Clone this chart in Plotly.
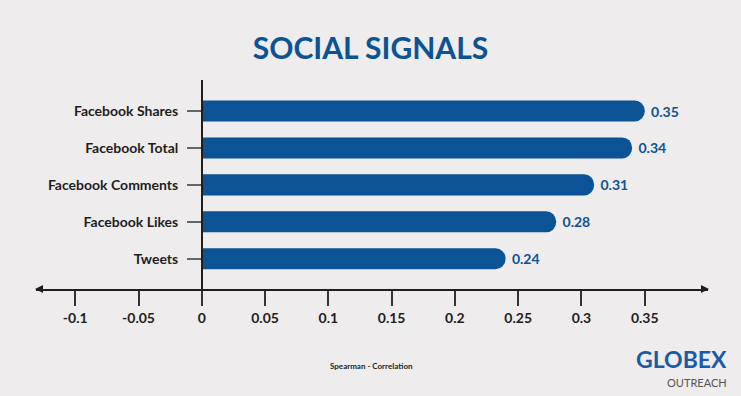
import plotly.graph_objects as go

categories = ["Facebook Shares", "Facebook Total", "Facebook Comments", "Facebook Likes", "Tweets"]
values = [0.35, 0.34, 0.31, 0.28, 0.24]
value_labels = ["0.35", "0.34", "0.31", "0.28", "0.24"]
tick_vals = [-0.1, -0.05, 0, 0.05, 0.1, 0.15, 0.2, 0.25, 0.3, 0.35]
tick_text = ["-0.1", "-0.05", "0", "0.05", "0.1", "0.15", "0.2", "0.25", "0.3", "0.35"]

BLUE = "#0b5394"
BG = "#eeecec"
DARK = "#1e1e1e"
FONT = "Lato, 'Open Sans', sans-serif"

xmin, xmax = -0.131, 0.40
ypos = (0 - xmin) / (xmax - xmin)

fig = go.Figure(go.Bar(
    x=values, y=categories, orientation="h",
    marker=dict(color=BLUE, cornerradius=10, line=dict(width=0)),
    text=value_labels, texttemplate="\u00a0%{text}", textposition="outside",
    textfont=dict(family=FONT, size=14, color=BLUE, weight="bold"),
    cliponaxis=False, width=0.57,
))

fig.update_layout(
    width=741, height=396,
    paper_bgcolor=BG, plot_bgcolor=BG,
    margin=dict(l=36, r=33, t=80, b=107),
    showlegend=False,
    title=dict(text="<b>SOCIAL SIGNALS</b>", x=0.5, xanchor="center", y=0.878, yanchor="middle",
               font=dict(family=FONT, size=30, color=BLUE)),
    xaxis=dict(range=[xmin, xmax], tickvals=tick_vals, ticktext=tick_text,
               showline=True, linecolor=DARK, linewidth=1.5,
               ticks="outside", ticklen=15, tickcolor="#333", tickwidth=1.5,
               showgrid=False, zeroline=False,
               tickfont=dict(family=FONT, size=14, color=DARK, weight="bold")),
    yaxis=dict(categoryorder="array", categoryarray=categories[::-1],
               range=[-0.82, 4.84], anchor="free", position=ypos,
               showline=True, linecolor=DARK, linewidth=1.5,
               ticks="outside", ticklen=14, tickcolor="#666", tickwidth=1.5,
               ticklabelstandoff=6,
               showgrid=False, zeroline=False,
               tickfont=dict(family=FONT, size=14, color=DARK, weight="bold")),
)

# arrowheads on the horizontal axis
fig.add_shape(type="path", xref="paper", yref="paper", xsizemode="pixel", ysizemode="pixel",
              xanchor=1, yanchor=0, path="M 1,0 L -7,4 L -7,-4 Z",
              fillcolor=DARK, line=dict(width=0))
fig.add_shape(type="path", xref="paper", yref="paper", xsizemode="pixel", ysizemode="pixel",
              xanchor=0, yanchor=0, path="M -1,0 L 7,4 L 7,-4 Z",
              fillcolor=DARK, line=dict(width=0))

fig.add_annotation(text="<b>Spearman - Correlation</b>", xref="paper", yref="paper",
                   x=(371 - 36) / 672, y=-(373 - 289) / 209, showarrow=False,
                   font=dict(family=FONT, size=8, color=DARK))

# logo
fig.add_annotation(text="<b>GLOBEX</b>", xref="paper", yref="paper",
                   x=(728 - 36) / 672, xanchor="right", y=-(359 - 289) / 209, yanchor="middle",
                   showarrow=False, borderpad=0,
                   font=dict(family=FONT, size=23, color="#1a5aa6"))
fig.add_annotation(text="OUTREACH", xref="paper", yref="paper",
                   x=(728 - 36) / 672, xanchor="right", y=-(382 - 289) / 209, yanchor="middle",
                   showarrow=False, borderpad=0,
                   font=dict(family=FONT, size=11, color="#555555"))

fig.write_html("out.html", config={"displayModeBar": False},
               post_script="document.body.style.margin='0';")
